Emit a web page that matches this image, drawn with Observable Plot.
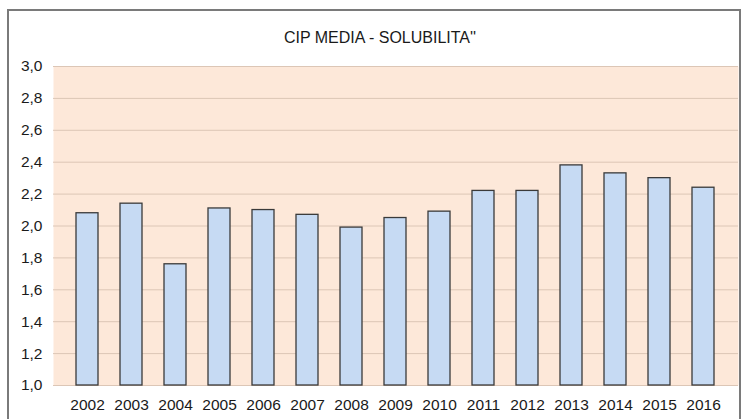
<!DOCTYPE html>
<html>
<head>
<meta charset="utf-8">
<script src="https://cdn.jsdelivr.net/npm/d3@7"></script>
<script src="https://cdn.jsdelivr.net/npm/@observablehq/plot@0.6"></script>
<style>
  html, body { margin: 0; padding: 0; background: #fff; overflow: hidden; }
  #wrap { position: relative; width: 744px; height: 419px; }
  #border { position: absolute; left: 7px; top: 9px; width: 734px; height: 430px; border: 2px solid #7a7a7a; box-sizing: border-box; pointer-events: none; }
  #chart { position: absolute; left: 0; top: 0; }
</style>
</head>
<body>
<div id="wrap">
  <div id="chart"></div>
  <div id="border"></div>
</div>
<script>
const years = ["2002","2003","2004","2005","2006","2007","2008","2009","2010","2011","2012","2013","2014","2015","2016"];
const values = [2.08, 2.14, 1.76, 2.11, 2.10, 2.07, 1.99, 2.05, 2.09, 2.22, 2.22, 2.38, 2.33, 2.30, 2.24];
const yTicks = [1.0, 1.2, 1.4, 1.6, 1.8, 2.0, 2.2, 2.4, 2.6, 2.8, 3.0];
const title = "CIP MEDIA - SOLUBILITA''";

const data = years.map((y, i) => ({year: y, value: values[i]}));
const fmt = v => v.toFixed(1).replace(".", ",");

const chart = Plot.plot({
  width: 744,
  height: 419,
  marginLeft: 53,
  marginRight: 6,
  marginTop: 66,
  marginBottom: 34,
  style: {fontFamily: "'Liberation Sans', Arial, sans-serif", background: "transparent"},
  x: {domain: years, padding: 0.49, align: 0.5, label: null},
  y: {domain: [1.0, 3.0], label: null},
  marks: [
    Plot.frame({fill: "#fde8d9", stroke: null}),
    Plot.gridY(yTicks, {stroke: "#dcc6b6", strokeOpacity: 1, strokeWidth: 1}),
    Plot.barY(data, {x: "year", y1: 1.0, y2: "value", fill: "#c6daf3", stroke: "#3a3a3a", strokeWidth: 1.3}),
    Plot.axisX({tickSize: 0, tickPadding: 13, fontSize: 15.5, color: "#1a1a1a", label: null}),
    Plot.axisY(yTicks, {tickSize: 0, tickPadding: 11, tickFormat: fmt, fontSize: 15.5, color: "#1a1a1a", label: null}),
    Plot.text([title], {text: d => d, frameAnchor: "top", lineAnchor: "bottom", dx: -16, dy: -24, fontSize: 16, fill: "#1a1a1a"})
  ]
});
document.getElementById("chart").appendChild(chart);
</script>
</body>
</html>
